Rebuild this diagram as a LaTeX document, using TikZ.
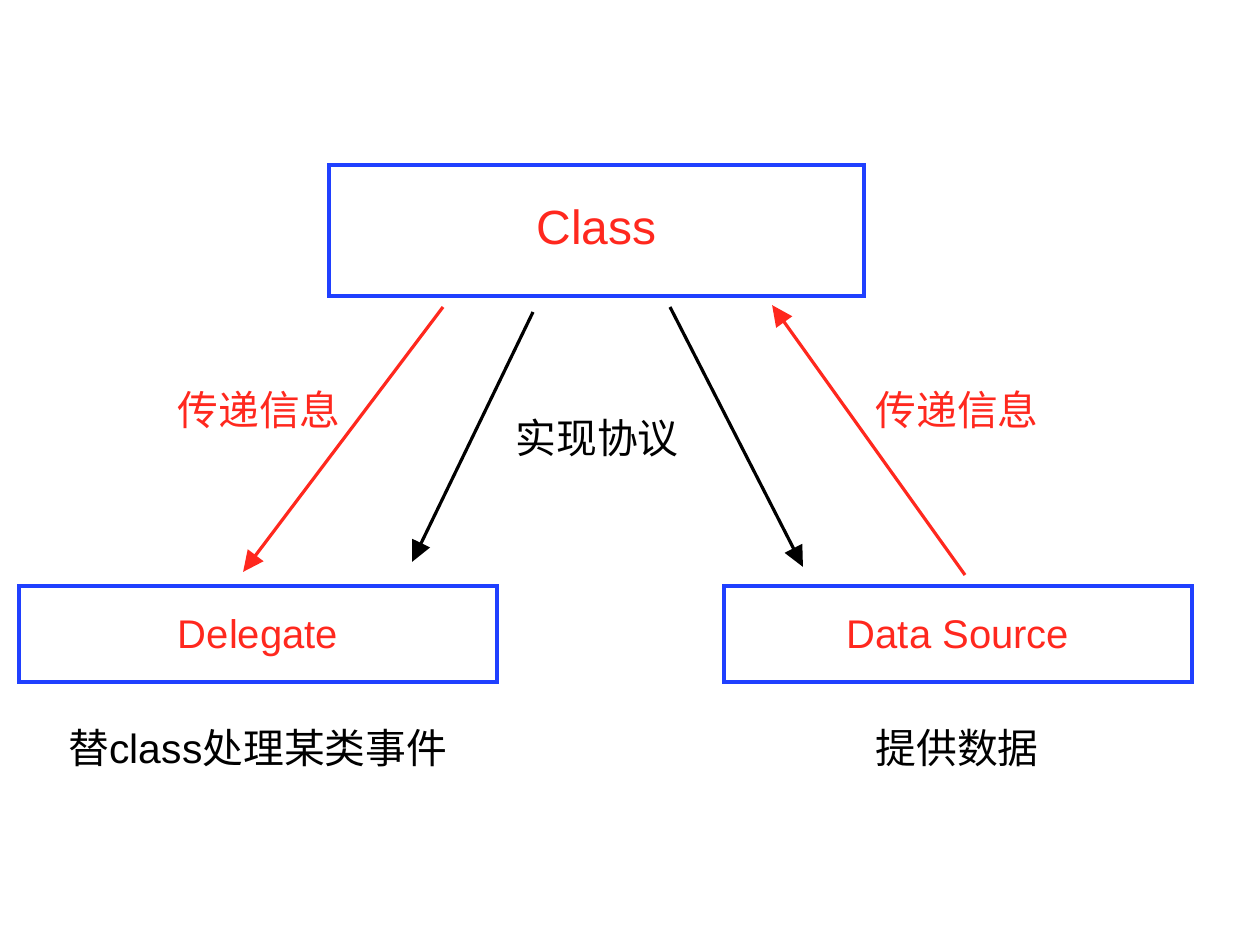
\documentclass[tikz,border=0pt]{standalone}
\usepackage{fontspec}
\setmainfont{Liberation Sans}
\newfontfamily\cjk{Noto Sans CJK SC}
\usetikzlibrary{arrows.meta}
\definecolor{boxblue}{RGB}{32,64,255}
\definecolor{msgred}{RGB}{255,40,30}
\begin{document}
\begin{tikzpicture}[x=0.5pt, y=-0.5pt,
            box/.style = {shape=rectangle, draw=boxblue, line width=1.6pt,
                          inner sep=0pt, text=msgred, text height=18pt, text depth=4pt,
                          font=\fontsize{20}{24}\selectfont},
            note/.style = {inner sep=0pt, font=\fontsize{20.4}{24}\selectfont\cjk},
            link/.style = {line width=1.6pt, -{Triangle[length=10.5pt,width=9.5pt]}}]
        \useasboundingbox (0,0) rectangle (1240,940);
        \node[box, minimum width=267.5pt, minimum height=65.5pt,
              font=\fontsize{24}{28}\selectfont] (class) at (596.5,230.5) {Class};
        \node[box, minimum width=239pt, minimum height=48pt] (delegate) at (258,634) {Delegate};
        \node[box, minimum width=234pt, minimum height=48pt] (source) at (958,634) {Data Source};
        \node[note] (delnote) at (258,748) {替{\fontspec{Liberation Sans}class}处理某类事件};
        \node[note] (srcnote) at (957,748) {提供数据};
        % arrow ends
        \coordinate (c1) at (443,307);  \coordinate (d1) at (243,572);
        \coordinate (c2) at (533,312);  \coordinate (d2) at (412,562);
        \coordinate (c3) at (670,307);  \coordinate (s1) at (803,567);
        \coordinate (s2) at (965,575);  \coordinate (c4) at (772,305);
        \draw[link, msgred] (c1) -- (d1);
        \draw[link] (c2) -- (d2);
        \draw[link] (c3) -- (s1);
        \draw[link, msgred] (s2) -- (c4);
        \node[note, text=msgred] (msgleft) at (259,410) {传递信息};
        \node[note] (proto) at (597,438) {实现协议};
        \node[note, text=msgred] (msgright) at (957,410) {传递信息};
\end{tikzpicture}
\end{document}
